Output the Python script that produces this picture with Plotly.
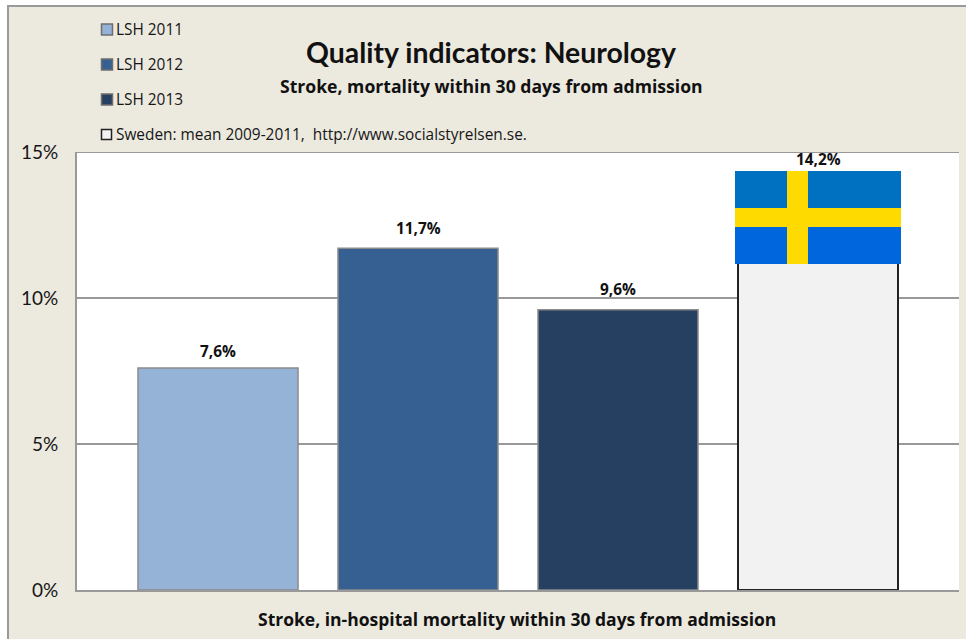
import plotly.graph_objects as go

SERIES = ["LSH 2011", "LSH 2012", "LSH 2013", "Sweden: mean 2009-2011,  http://www.socialstyrelsen.se."]
VALUES = [7.6, 11.7, 9.6, 14.2]
LABELS = ["7,6%", "11,7%", "9,6%", "14,2%"]
COLORS = ["#95B3D7", "#376092", "#254061", "#F2F2F2"]
EDGES = ["#8A8A8A", "#8A8A8A", "#8A8A8A", "#222222"]
EDGE_WIDTHS = [1.5, 1.5, 1.5, 2]
LABEL_SHIFTS = [17, 20, 20, 16]
TICKS = [0, 5, 10, 15]
TICK_TEXT = ["0%", "5%", "10%", "15%"]
TITLE = "Quality indicators: Neurology"
SUBTITLE = "Stroke, mortality within 30 days from admission"
XTITLE = "Stroke, in-hospital mortality within 30 days from admission"

W, H = 966, 639
L, R, T, B = 77, 7, 152, 49
PW, PH = W - L - R, H - T - B
FONT = "Lato"
WIDE = "Open Sans"
BG = "#ECE9DF"
GRID = "#999999"
TEXT = "#161616"


def px(x):
    return (x - L) / PW


def py(y):
    return 1 - (y - T) / PH


shapes = [
    dict(type="rect", xref="paper", yref="paper", x0=px(8), x1=px(W + 5), y0=py(6), y1=py(H + 5),
         fillcolor=BG, line=dict(color="#9A9A9A", width=2), layer="below"),
    dict(type="rect", xref="paper", yref="paper", x0=0, x1=1, y0=0, y1=1,
         fillcolor="white", line=dict(width=0), layer="below"),
    dict(type="line", xref="paper", yref="y", x0=0, x1=1, y0=TICKS[-1], y1=TICKS[-1],
         line=dict(color=GRID, width=2), layer="above"),
]


def flag_rect(x0, x1, y0, y1, color):
    shapes.append(dict(type="rect", xref="paper", yref="paper", x0=px(x0), x1=px(x1), y0=py(y0), y1=py(y1),
                       fillcolor=color, line=dict(width=0), layer="above"))


flag_rect(735, 901, 171, 218, "#0070C0")
flag_rect(735, 901, 218, 264, "#0066DD")
flag_rect(787, 808, 171, 264, "#FFDA00")
flag_rect(735, 901, 208, 227, "#FFDA00")

annotations = []
legend_y = [29, 64, 99, 134]
for name, color, edge, yc in zip(SERIES, COLORS, EDGES, legend_y):
    s = 5.5 if edge == "#8A8A8A" else 5
    shapes.append(dict(type="rect", xref="paper", yref="paper", x0=px(101.5), x1=px(101.5 + 2 * s),
                       y0=py(yc + 0.5 - s), y1=py(yc + 0.5 + s), fillcolor=color,
                       line=dict(color="#6E6E6E" if edge == "#8A8A8A" else edge, width=1.5), layer="above"))
    annotations.append(dict(xref="paper", yref="paper", x=px(114), y=py(yc), text=name, showarrow=False,
                            xanchor="left", yanchor="middle",
                            font=dict(family=WIDE, size=15.4, color=TEXT)))

for cat, val, lab, shift in zip(SERIES, VALUES, LABELS, LABEL_SHIFTS):
    annotations.append(dict(x=cat, y=val, xref="x", yref="y", text=f"<b>{lab}</b>", showarrow=False,
                            yanchor="middle", yshift=shift, font=dict(family=WIDE, size=15.4, color="#111111")))

annotations.append(dict(xref="paper", yref="paper", x=px(491), y=py(86), text=f"<b>{SUBTITLE}</b>",
                        showarrow=False, xanchor="center", yanchor="middle",
                        font=dict(family=WIDE, size=17.6, color="#111111")))
annotations.append(dict(xref="paper", yref="paper", x=px(517), y=py(619), text=f"<b>{XTITLE}</b>",
                        showarrow=False, xanchor="center", yanchor="middle",
                        font=dict(family=WIDE, size=17.5, color="#111111")))

fig = go.Figure(go.Bar(
    x=SERIES, y=VALUES, width=0.8, hoverinfo="skip",
    marker=dict(color=COLORS, line=dict(color=EDGES, width=EDGE_WIDTHS)),
))
fig.update_layout(
    width=W, height=H, margin=dict(l=L, r=R, t=T, b=B, pad=0),
    paper_bgcolor="white", plot_bgcolor="rgba(0,0,0,0)", showlegend=False,
    font=dict(family=FONT, color=TEXT),
    title=dict(text=f"<b>{TITLE}</b>", x=491 / W, y=1 - 53 / H, xanchor="center", yanchor="middle",
               xref="container", yref="container", font=dict(family=FONT, size=28.4, color="#111111")),
    shapes=shapes, annotations=annotations,
    xaxis=dict(type="category", categoryorder="array", categoryarray=SERIES, range=[-0.705, 3.705],
               showticklabels=False, ticks="", showgrid=False, showline=True, linecolor=GRID, linewidth=2,
               zeroline=False),
    yaxis=dict(range=[0, 15], tickvals=TICKS, ticktext=TICK_TEXT, ticks="", showgrid=True, gridcolor=GRID,
               gridwidth=1.5, showline=True, linecolor=GRID, linewidth=2, zeroline=False,
               ticklabelstandoff=13, tickfont=dict(family=FONT, size=19, color=TEXT)),
)
fig.write_html("out.html", config=dict(displayModeBar=False),
               post_script="document.body.style.margin='0';document.documentElement.style.overflow='hidden';")
